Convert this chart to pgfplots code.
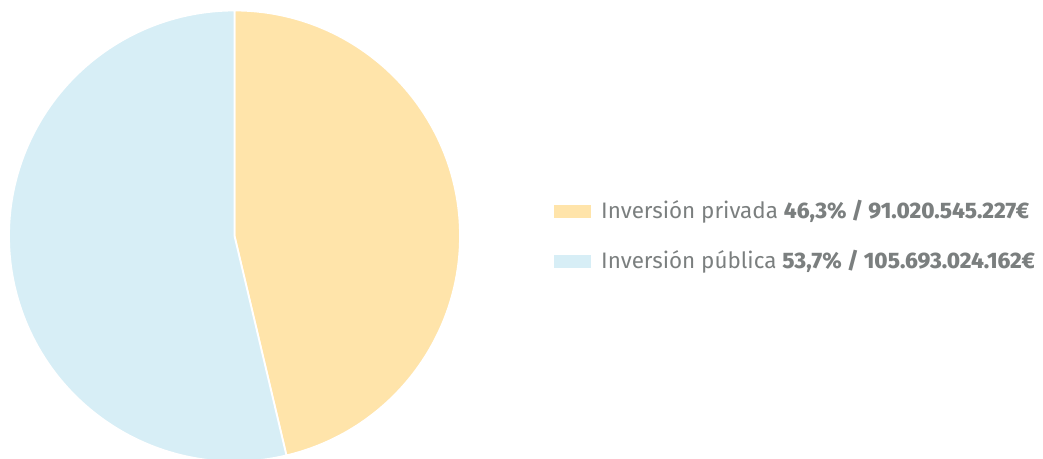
\documentclass[border=0pt]{standalone}
\usepackage{pgfplots}
\usepackage{pgfplotstable}
\usepackage{fontspec}
\pgfplotsset{compat=1.18}
\setmainfont{Fira Sans}[BoldFont=* ExtraBold]

\definecolor{privada}{HTML}{FFE4AA}
\definecolor{publica}{HTML}{D7EEF6}
\definecolor{txt}{HTML}{7B7F7F}

\pgfplotstableread{
pct amount
46.3 91.020.545.227
53.7 105.693.024.162
}\inversion

\begin{document}
\begin{tikzpicture}
\pgfplotstablegetelem{0}{pct}\of\inversion \let\pa\pgfplotsretval
\pgfplotstablegetelem{1}{pct}\of\inversion \let\pb\pgfplotsretval
\pgfmathsetmacro\ea{90-3.6*\pa}
\pgfmathsetmacro\eb{\ea-3.6*\pb}
\begin{axis}[
    scale only axis,
    width=1043bp, height=459bp,
    xmin=0, xmax=1043, ymin=0, ymax=459,
    hide axis,
    clip=true,
]
% pie centre (234.5,223) in pixel units, radius 225.5
\fill[privada, draw=white, line width=1.8pt] (axis cs:234.5,223) -- ++(90:225.5bp)
    arc[start angle=90, end angle=\ea, radius=225.5bp] -- cycle;
\fill[publica, draw=white, line width=1.8pt] (axis cs:234.5,223) -- ++(\ea:225.5bp)
    arc[start angle=\ea, end angle=\eb, radius=225.5bp] -- cycle;

% legend
\fill[privada] (axis cs:554,241) rectangle (axis cs:591,254);
\fill[publica] (axis cs:554,191) rectangle (axis cs:591,204);
\node[anchor=base west, inner sep=0pt, text=txt, font=\fontsize{22.5}{26}\selectfont]
    at (axis cs:601,240) {Inversión privada \textbf{46,3\% / 91.020.545.227€}};
\node[anchor=base west, inner sep=0pt, text=txt, font=\fontsize{22.5}{26}\selectfont]
    at (axis cs:601,190) {Inversión pública \textbf{53,7\% / 105.693.024.162€}};
\end{axis}
\pgfresetboundingbox
\useasboundingbox (current axis.south west) rectangle (current axis.north east);
\end{tikzpicture}
\end{document}
